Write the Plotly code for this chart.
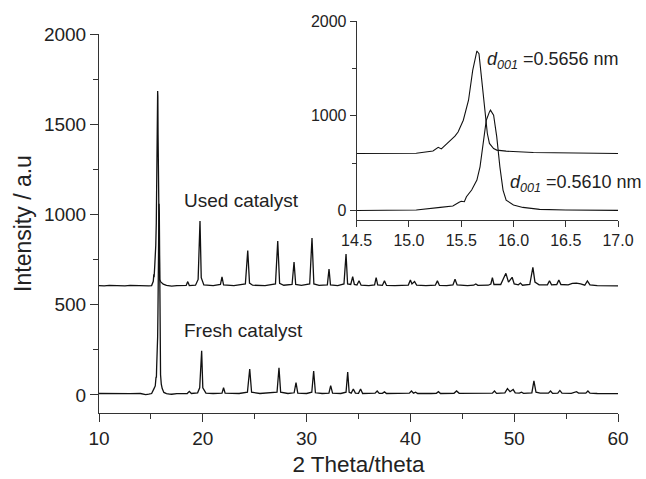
import plotly.graph_objects as go

# ---------------- data ----------------
# inset: zoom of the d001 reflection, 14.5-17.0 deg
inset_used_x = [14.5, 14.8, 15.07, 15.23, 15.28, 15.31, 15.38, 15.44, 15.47, 15.52, 15.57, 15.61,
                15.65, 15.67, 15.69, 15.73, 15.75, 15.77, 15.81, 15.84, 15.93, 16.19, 16.5, 16.8, 17.0]
inset_used_y = [603, 604, 606, 630, 668, 652, 726, 786, 830, 954, 1165, 1480,
                1684, 1656, 1445, 1060, 814, 709, 656, 639, 628, 614, 607, 604, 603]

inset_fresh_x = [14.5, 14.8, 15.07, 15.3, 15.42, 15.48, 15.5, 15.53, 15.55, 15.6, 15.65, 15.68, 15.71,
                 15.74, 15.77, 15.78, 15.81, 15.84, 15.87, 15.9, 15.93, 16.0, 16.09, 16.25, 16.5, 16.8, 17.0]
inset_fresh_y = [2, 4, 8, 35, 50, 90, 100, 95, 147, 218, 323, 463, 709,
                 954, 1042, 1060, 1007, 779, 463, 218, 112, 60, 35, 14, 7, 5, 4]

# main pattern: Used catalyst (below 14.5 and above 17.0 deg)
used_lo_x = [10.0, 10.5, 11.0, 11.5, 12.0, 12.5, 13.0, 13.5, 14.0]
used_lo_y = [606, 604, 607, 605, 606, 604, 607, 605, 606]
used_hi_x = [17.5, 18.0, 18.4, 18.55, 18.7, 19.3, 19.55, 19.73, 19.85, 20.1, 21.0, 21.7, 21.85, 22.0,
             23.0, 24.1, 24.33, 24.5, 24.8, 26.0, 27.0, 27.22, 27.4, 27.8, 28.6, 28.79, 28.95, 29.5,
             30.3, 30.52, 30.7, 31.2, 32.0, 32.16, 32.3, 33.0, 33.6, 33.8, 33.95, 34.25, 34.44, 34.6,
             34.85, 35.05, 35.25, 36.0, 36.55, 36.7, 36.85, 37.3, 37.5, 37.7, 38.5, 39.8, 40.0, 40.15,
             40.4, 40.6, 41.5, 42.4, 42.6, 42.8, 43.5, 44.1, 44.3, 44.5, 45.5, 46.1, 46.3, 46.5, 47.5,
             47.75, 47.9, 48.05, 48.7, 49.2, 49.45, 49.8, 50.0, 50.4, 50.6, 50.8, 51.5, 51.8, 52.0,
             52.4, 53.2, 53.4, 53.6, 54.1, 54.3, 54.5, 55.2, 55.6, 56.0, 56.4, 56.8, 57.05, 57.3,
             58.0, 59.0, 60.0]
used_hi_y = [606, 605, 607, 628, 606, 608, 640, 964, 650, 610, 606, 612, 654, 610,
             606, 615, 800, 620, 608, 606, 615, 853, 618, 608, 612, 737, 612, 607,
             615, 870, 615, 607, 610, 698, 610, 606, 615, 781, 615, 612, 655, 612,
             609, 633, 608, 606, 610, 650, 610, 607, 632, 607, 606, 609, 637, 615,
             629, 609, 606, 608, 632, 607, 606, 610, 641, 610, 606, 608, 615, 607, 608,
             615, 650, 612, 612, 674, 625, 652, 615, 610, 620, 608, 612, 707, 625,
             610, 610, 633, 610, 612, 637, 612, 610, 618, 620, 616, 608, 632, 610,
             606, 605, 604]

# main pattern: Fresh catalyst
fresh_lo_x = [10.0, 11.0, 12.0, 13.0, 14.0]
fresh_lo_y = [8, 7, 9, 7, 8]
fresh_hi_x = [17.5, 18.5, 18.7, 18.9, 19.5, 19.7, 19.89, 20.0, 20.3, 21.0, 21.85, 22.0, 22.15, 23.5,
              24.3, 24.52, 24.7, 25.5, 27.15, 27.34, 27.5, 28.2, 28.8, 28.98, 29.15, 30.0, 30.5,
              30.68, 30.85, 31.5, 32.15, 32.32, 32.5, 33.3, 33.8, 33.96, 34.1, 34.3, 34.5, 34.7,
              35.0, 35.2, 35.4, 36.2, 36.6, 36.8, 37.0, 37.3, 37.5, 37.7, 39.0, 39.9, 40.1, 40.3,
              40.5, 40.7, 42.0, 42.5, 42.7, 42.9, 44.2, 44.45, 44.7, 46.0, 47.9, 48.1, 48.3, 49.1,
              49.35, 49.6, 49.9, 50.1, 50.5, 50.7, 50.9, 51.7, 51.9, 52.1, 52.5, 53.3, 53.5, 53.7,
              54.2, 54.4, 54.6, 55.5, 55.8, 56.0, 56.2, 56.9, 57.1, 57.3, 58.0, 59.0, 60.0]
fresh_hi_y = [7, 8, 20, 8, 12, 40, 245, 40, 10, 8, 10, 40, 10, 8,
              15, 144, 15, 8, 15, 151, 15, 8, 12, 68, 10, 8, 15,
              133, 12, 8, 10, 52, 10, 8, 15, 127, 15, 10, 33, 10,
              9, 33, 8, 8, 10, 22, 9, 9, 17, 8, 8, 10, 22, 10,
              15, 8, 8, 9, 18, 8, 9, 22, 9, 8, 10, 22, 9, 12,
              35, 18, 30, 12, 10, 15, 9, 12, 78, 15, 10, 10, 22, 9,
              10, 25, 10, 9, 12, 18, 10, 10, 22, 10, 8, 7, 7]

series_labels = ["Used catalyst", "Fresh catalyst"]
inset_labels = ["=0.5656 nm", "=0.5610 nm"]
x_title = "2 Theta/theta"
y_title = "Intensity / a.u"

# ---------------- figure ----------------
used_x = used_lo_x + inset_used_x + used_hi_x
used_y = used_lo_y + inset_used_y + used_hi_y
fresh_x = fresh_lo_x + inset_fresh_x + fresh_hi_x
fresh_y = fresh_lo_y + inset_fresh_y + fresh_hi_y

FONT = "Liberation Sans, Arial, sans-serif"
LC = "#111111"
AX = "#333333"
TXT = "#222222"

fig = go.Figure()
fig.add_trace(go.Scatter(x=used_x, y=used_y, mode="lines", line=dict(color=LC, width=1.3),
                         name=series_labels[0], xaxis="x", yaxis="y"))
fig.add_trace(go.Scatter(x=fresh_x, y=fresh_y, mode="lines", line=dict(color=LC, width=1.3),
                         name=series_labels[1], xaxis="x", yaxis="y"))
fig.add_trace(go.Scatter(x=inset_used_x, y=inset_used_y, mode="lines", line=dict(color=LC, width=1.1),
                         name="inset used", xaxis="x2", yaxis="y2"))
fig.add_trace(go.Scatter(x=inset_fresh_x, y=inset_fresh_y, mode="lines", line=dict(color=LC, width=1.1),
                         name="inset fresh", xaxis="x2", yaxis="y2"))

axis_common = dict(showline=True, linecolor=AX, linewidth=1, ticks="outside", tickcolor=AX,
                   tickwidth=1, showgrid=False, zeroline=False, mirror=False, automargin=False,
                   tickfont=dict(family=FONT, size=19, color=TXT))

fig.update_layout(
    width=646, height=479, autosize=False,
    margin=dict(l=99, r=28, t=21, b=66),
    paper_bgcolor="white", plot_bgcolor="white",
    showlegend=False,
    xaxis=dict(axis_common, domain=[0, 1], range=[10, 60], tick0=10, dtick=10, ticklen=8,
               minor=dict(dtick=5, tick0=10, ticklen=5, ticks="outside", tickcolor=AX),
               anchor="y",
               title=dict(text=x_title, font=dict(family=FONT, size=22.5, color=TXT), standoff=8)),
    yaxis=dict(axis_common, domain=[0, 0.9668], range=[-100, 2000], tick0=0, dtick=500, ticklen=8,
               minor=dict(dtick=250, tick0=0, ticklen=5, ticks="outside", tickcolor=AX),
               anchor="x",
               title=dict(text=y_title, font=dict(family=FONT, size=23, color=TXT), standoff=5)),
    xaxis2=dict(axis_common, domain=[0.4965, 1], range=[14.5, 17.0], tick0=14.5, dtick=0.5,
                tickformat=".1f", ticklen=6, anchor="y2",
                tickfont=dict(family=FONT, size=16, color=TXT)),
    yaxis2=dict(axis_common, domain=[0.4918, 1], range=[-100, 2000], tick0=0, dtick=1000, ticklen=6,
                minor=dict(dtick=500, tick0=0, ticklen=4, ticks="outside", tickcolor=AX),
                anchor="x2",
                tickfont=dict(family=FONT, size=16, color=TXT)),
)

ann_font = dict(family=FONT, size=19, color=TXT)
ins_font = dict(family=FONT, size=18, color=TXT)
fig.add_annotation(x=18.0, y=1080, xref="x", yref="y", text=series_labels[0], showarrow=False,
                   xanchor="left", yanchor="middle", font=ann_font)
fig.add_annotation(x=18.0, y=355, xref="x", yref="y", text=series_labels[1], showarrow=False,
                   xanchor="left", yanchor="middle", font=ann_font)
fig.add_annotation(x=15.728, y=1586, xref="x2", yref="y2",
                   text="<i>d</i><sub><i>001</i></sub> " + inset_labels[0], showarrow=False,
                   xanchor="left", yanchor="middle", font=ins_font)
fig.add_annotation(x=15.95, y=292, xref="x2", yref="y2",
                   text="<i>d</i><sub><i>001</i></sub> " + inset_labels[1], showarrow=False,
                   xanchor="left", yanchor="middle", font=ins_font)

fig.write_html("out.html", config={"displayModeBar": False, "responsive": False},
               post_script="document.body.style.margin='0';document.body.style.padding='0';")
